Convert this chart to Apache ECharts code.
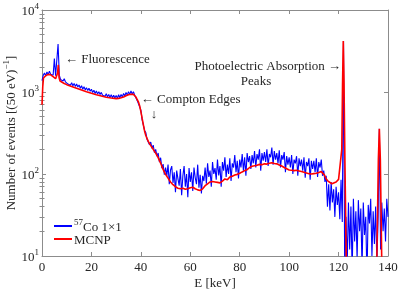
<!DOCTYPE html>
<html><head><meta charset="utf-8">
<script src="https://cdn.jsdelivr.net/npm/echarts@6/dist/echarts.min.js"></script>
<style>html,body{margin:0;padding:0;background:#fff}#c{width:400px;height:294px}</style>
</head><body><div id="c"></div>
<script>
// ---------------- data ----------------
const xTicks = [0, 20, 40, 60, 80, 100, 120, 140];
const yTicks = [10, 100, 1000, 10000];
const yMinorTicks = [20, 30, 40, 50, 60, 70, 80, 90, 200, 300, 400, 500, 600, 700, 800, 900,
  2000, 3000, 4000, 5000, 6000, 7000, 8000, 9000];
const seriesNames = ['Co57', 'MCNP'];

// measured spectrum: 0.5 keV bins starting at 0 keV
const coStartE = 0;
const coStepE = 0.5;
const coCounts = [
  1380, 1600, 1700, 1580, 1760, 1640, 1790, 1650, 1740, 1600,
  2550, 1580, 1500, 3850, 1600, 1420, 1480, 1360, 1450, 1330,
  1340, 1250, 1320, 1210, 1300, 1190, 1270, 1170, 1250, 1150,
  1220, 1110, 1190, 1080, 1160, 1060, 1130, 1040, 1110, 1020,
  1080, 985, 1050, 960, 1030, 945, 1010, 930, 990, 915,
  965, 890, 950, 875, 935, 860, 925, 850, 915, 845,
  910, 840, 925, 850, 935, 870, 960, 895, 990, 915,
  1010, 935, 1030, 945, 1010, 915, 900, 790, 760, 660,
  600, 460, 440, 340, 320, 265, 275, 228, 245, 205,
  225, 182, 200, 165, 180, 140, 158, 118, 132, 98,
  120, 95, 130, 75, 112, 125, 78, 105, 60, 110,
  88, 72, 115, 55, 95, 125, 70, 100, 52, 118,
  80, 105, 62, 120, 90, 75, 130, 68, 98, 58,
  95, 82, 120, 76, 135, 92, 110, 70, 140, 100,
  118, 85, 150, 96, 125, 70, 140, 110, 160, 92,
  130, 100, 155, 82, 135, 120, 170, 105, 145, 88,
  150, 120, 175, 110, 160, 95, 180, 140, 165, 115,
  170, 135, 190, 120, 175, 150, 200, 110, 180, 145,
  185, 140, 200, 125, 175, 160, 210, 130, 190, 150,
  180, 135, 195, 120, 170, 150, 185, 105, 165, 130,
  160, 120, 170, 100, 150, 135, 165, 95, 155, 125,
  150, 110, 160, 90, 140, 125, 155, 85, 145, 115,
  145, 105, 155, 92, 140, 120, 150, 95, 110, 80,
  95, 40, 75, 36, 80, 45, 65, 30, 70, 42,
  60, 28, 85, 26, 4200, 5, 30, 8, 45, 12,
  40, 6, 50, 15, 35, 9, 48, 20, 38, 7,
  45, 18, 30, 5, 42, 25, 50, 10, 35, 14,
  40, 8, 30, 355, 12, 45, 20, 38, 15, 50,
  30
];

// MCNP simulation
const mcnpE = [0, 0.3, 0.6, 1, 1.5, 2, 2.5, 3, 3.5, 4, 4.5, 5, 5.5, 6, 6.3, 6.6, 6.9, 7.3, 8, 9,
  10, 12, 14, 16, 18, 20, 22, 24, 26, 28, 30, 31, 32, 33, 34, 35, 36, 37, 37.5, 38, 38.5, 39, 39.5,
  40, 40.5, 41, 41.5, 42, 43, 44, 45, 46, 47, 48, 49, 50, 51, 52, 53, 54, 55, 56, 57, 58, 59,
  60, 61, 62, 63, 64, 65, 66, 67, 68, 69, 70, 71, 72, 73, 74, 75, 76, 77, 78, 79,
  80, 81, 82, 83, 84, 85, 86, 87, 88, 89, 90, 91, 92, 93, 94, 95, 96, 97, 98, 99,
  100, 101, 102, 103, 104, 105, 106, 107, 108, 109, 110, 111, 112, 113, 113.7, 114.3, 115, 115.7,
  116.5, 117.3, 118, 119, 120, 120.8, 121.3, 121.6, 121.9, 122.2, 122.6, 123, 123.4, 124, 130,
  135, 135.6, 136.1, 136.5, 136.9, 137.4, 138, 140];
const mcnpV = [700, 1150, 1480, 1540, 1580, 1620, 1640, 1660, 1620, 1580, 1540, 1490, 1450, 1420, 1700, 2150, 1500, 1360, 1320, 1270,
  1230, 1170, 1110, 1060, 1010, 965, 925, 895, 865, 845, 830, 835, 850, 870, 900, 925, 940, 935, 915, 870, 810, 760, 680,
  580, 480, 400, 335, 295, 250, 222, 200, 180, 158, 136, 114, 99, 89, 80, 74, 70, 67, 66, 67, 65, 66,
  68, 69, 66, 64, 63, 66, 72, 76, 80, 81, 80, 79, 78, 82, 87, 85, 92, 94, 97, 99,
  102, 106, 110, 113, 120, 124, 126, 128, 131, 130, 133, 132, 135, 137, 134, 133, 129, 125, 120, 116,
  112, 111, 110, 111, 109, 107, 105, 103, 101, 100, 101, 102, 104, 107, 106, 97, 87, 82,
  79, 76, 77, 80, 86, 84, 200, 1200, 4200, 1300, 120, 15, 3, 1, 1,
  1, 15, 150, 355, 150, 12, 1, 1];

// annotation texts and their anchor (data coordinates)
const annTexts = ['\u2190 Fluorescence', '\u2190 Compton Edges', '\u2193', 'Photoelectric Absorption \u2192', 'Peaks'];
const annE = [9.3, 40.0, 45.3, 121.0, 86.6];
const annV = [2520, 811, 525, 2020, 1325];
const annAlign = ['left', 'left', 'center', 'right', 'center'];

// ---------------- chart ----------------
const FONT = 'Liberation Serif';
const TXT = '#262626';
const AX = '#8c8c8c';

const coData = coCounts.map((v, i) => [coStartE + i * coStepE, v]);
const mcnpData = mcnpE.map((e, i) => [e, mcnpV[i]]);

const chart = echarts.init(document.getElementById('c'), null, {renderer: 'canvas'});

const supRich = {
  b: {fontFamily: FONT, fontSize: 13, color: TXT, verticalAlign: 'bottom', lineHeight: 16},
  sup: {fontFamily: FONT, fontSize: 9, color: TXT, verticalAlign: 'top', lineHeight: 16}
};

const baseX = {
  type: 'value', min: 0, max: 140, interval: 20,
  splitLine: {show: false},
  axisLine: {show: true, onZero: false, lineStyle: {color: AX, width: 1}},
  axisTick: {show: true, inside: true, length: 4, lineStyle: {color: AX}},
};
const baseY = {
  type: 'log', logBase: 10, min: 10, max: 10000,
  splitLine: {show: false},
  axisLine: {show: true, onZero: false, lineStyle: {color: AX, width: 1}},
  axisTick: {show: true, inside: true, length: 4, lineStyle: {color: AX}},
};

chart.setOption({
  animation: false,
  backgroundColor: '#fff',
  grid: {left: 42, right: 12, top: 10, bottom: 38, containLabel: false, outerBoundsMode: 'none'},
  legend: {
    orient: 'vertical', left: 49, top: 213, itemGap: 0,
    itemWidth: 18, itemHeight: 2, icon: 'rect',
    data: seriesNames,
    formatter: n => n === 'Co57' ? '{sup|57}{b|Co 1\u00d71}' : '{b|MCNP}',
    textStyle: {fontFamily: FONT, fontSize: 13, color: TXT, padding: [0, 0, 0, -3], rich: supRich}
  },
  xAxis: [
    Object.assign({}, baseX, {
      position: 'bottom',
      name: 'E [keV]', nameLocation: 'middle', nameGap: 21, nameMoveOverlap: false,
      nameTextStyle: {fontFamily: FONT, fontSize: 13, color: TXT},
      axisLabel: {show: true, margin: 5, fontFamily: FONT, fontSize: 13, color: TXT,
        customValues: xTicks}
    }),
    Object.assign({}, baseX, {position: 'top', axisLabel: {show: false}})
  ],
  yAxis: [
    Object.assign({}, baseY, {
      position: 'left',
      name: '{b|Number of events [(50 eV)}{sup|\u22121}{b|]}',
      nameLocation: 'middle', nameGap: 24, nameRotate: 90, nameMoveOverlap: false,
      nameTextStyle: {fontFamily: FONT, fontSize: 13, color: TXT, rich: supRich},
      axisTick: {show: true, inside: true, length: 4, lineStyle: {color: AX}, customValues: yTicks},
      axisLabel: {show: true, margin: 3, customValues: yTicks,
        formatter: v => '{b|10}{sup|' + Math.round(Math.log10(v)) + '}', rich: supRich}
    }),
    Object.assign({}, baseY, {position: 'right', axisLabel: {show: false},
      axisTick: {show: true, inside: true, length: 4, lineStyle: {color: AX}, customValues: yTicks}}),
    Object.assign({}, baseY, {position: 'left', axisLabel: {show: false}, axisLine: {show: false},
      axisTick: {show: true, inside: true, length: 2.5, lineStyle: {color: AX}, customValues: yMinorTicks}}),
    Object.assign({}, baseY, {position: 'right', axisLabel: {show: false}, axisLine: {show: false},
      axisTick: {show: true, inside: true, length: 2.5, lineStyle: {color: AX}, customValues: yMinorTicks}})
  ],
  series: [
    {name: 'Co57', type: 'line', xAxisIndex: 0, yAxisIndex: 0, data: coData,
      showSymbol: false, symbol: 'none', clip: true,
      lineStyle: {color: '#0000ff', width: 1.1}, itemStyle: {color: '#0000ff'}},
    {name: 'MCNP', type: 'line', xAxisIndex: 0, yAxisIndex: 0, data: mcnpData,
      showSymbol: false, symbol: 'none', clip: true,
      lineStyle: {color: '#ff0000', width: 1.6}, itemStyle: {color: '#ff0000'}}
  ]
});

const graphics = annTexts.map((t, i) => {
  const p = chart.convertToPixel({xAxisIndex: 0, yAxisIndex: 0}, [annE[i], annV[i]]);
  return {type: 'text', x: p[0], y: p[1], z: 100,
    style: {text: t, fontFamily: FONT, fontSize: 13, fill: TXT, align: annAlign[i], verticalAlign: 'middle'}};
});
chart.setOption({graphic: graphics});
</script>
</body></html>
